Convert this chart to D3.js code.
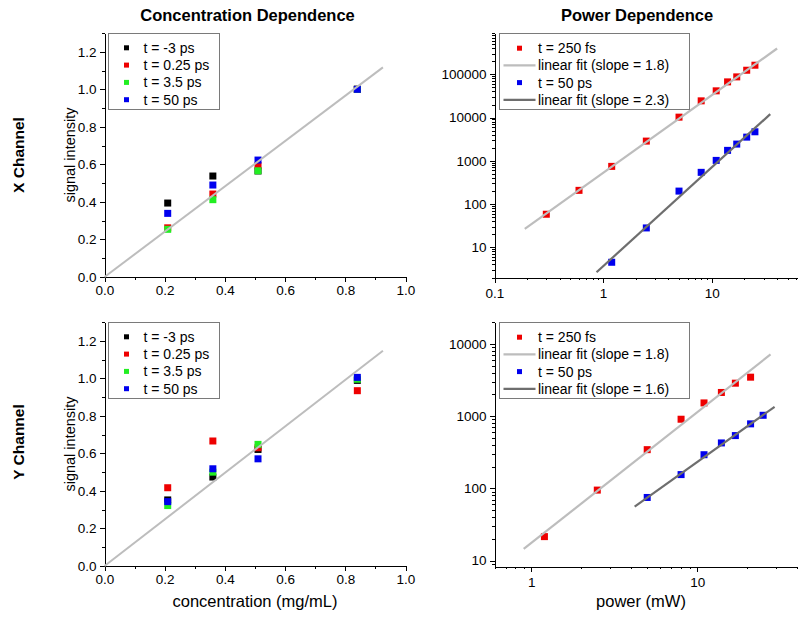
<!DOCTYPE html>
<html><head><meta charset="utf-8">
<script src="https://cdn.jsdelivr.net/npm/d3@7/dist/d3.min.js"></script>
<style>
html,body{margin:0;padding:0;background:#fff;}
svg{display:block;font-family:"Liberation Sans",Arial,sans-serif;}
</style></head>
<body>
<svg id="chart" width="800" height="617"></svg>
<script>
// ---------------- DATA ----------------
const concentrations = [0.21, 0.36, 0.51, 0.84];
const concSeriesLabels = ["t = -3 ps", "t = 0.25 ps", "t = 3.5 ps", "t = 50 ps"];
// X channel (concentration)
const xChanM3 = [0.394, 0.538, 0.565, 1.0];
const xChan025 = [0.262, 0.442, 0.593, 1.0];
const xChan35 = [0.254, 0.412, 0.566, 1.0];
const xChan50 = [0.339, 0.490, 0.623, 1.0];
// Y channel (concentration)
const yChanM3 = [0.352, 0.474, 0.621, 0.989];
const yChan025 = [0.417, 0.666, 0.630, 0.934];
const yChan35 = [0.322, 0.500, 0.648, 0.995];
const yChan50 = [0.343, 0.518, 0.571, 1.005];
// concentration fit lines (endpoints, data units)
const concFitX = [0, 0.925];
const xChanFitY = [0, 1.117];
const yChanFitY = [0, 1.147];

// X channel (power)
const xPowRed = [0.3, 0.6, 1.2, 2.5, 5, 8, 11, 14, 17, 21, 25];
const xSigRed = [58, 207, 742, 2850, 10200, 24300, 41400, 66700, 87000, 124000, 162000];
const xPowBlue = [1.2, 2.5, 5, 8, 11, 14, 17, 21, 25];
const xSigBlue = [4.5, 28, 199, 540, 1020, 1740, 2430, 3520, 4680];
const xFitRedX = [0.19, 40], xFitRedY = [26.5, 394000];
const xFitBlueX = [0.87, 34.6], xFitBlueY = [2.65, 11970];
const xPowLegend = ["t = 250 fs", "linear fit (slope = 1.8)", "t = 50 ps", "linear fit (slope = 2.3)"];
// Y channel (power)
const yPowRed = [1.2, 2.5, 5, 8, 11, 14, 17, 21];
const ySigRed = [21.5, 94.6, 343, 904, 1520, 2120, 2850, 3450];
const yPowBlue = [5, 8, 11, 14, 17, 21, 25];
const ySigBlue = [74.8, 155, 292, 425, 537, 780, 1025];
const yFitRedX = [0.9, 27.7], yFitRedY = [14.5, 7130];
const yFitBlueX = [4.2, 29.3], yFitBlueY = [56, 1343];
const yPowLegend = ["t = 250 fs", "linear fit (slope = 1.8)", "t = 50 ps", "linear fit (slope = 1.6)"];

// tick labels
const concTicks = [0, 0.2, 0.4, 0.6, 0.8, 1.0];
const intensityTicks = [0, 0.2, 0.4, 0.6, 0.8, 1.0, 1.2];
const xPowTicksTop = [0.1, 1, 10];
const xSigTicksTop = [10, 100, 1000, 10000, 100000];
const xPowTicksBottom = [1, 10];
const ySigTicksBottom = [10, 100, 1000, 10000];

// ---------------- STYLE ----------------
const C = {black:"#000000", red:"#ee0000", green:"#22ee22", blue:"#0000ee",
           fitLight:"#bdbdbd", fitDark:"#6e6e6e", legendBorder:"#7a7a7a"};
const concColors = [C.black, C.red, C.green, C.blue];
const FONT_TICK = 13.5;

const svg = d3.select("#chart");

function minorLinear(domain, step){
  const out=[]; for(let v=domain[0]; v<=domain[1]+1e-9; v+=step){ out.push(+v.toFixed(6)); } return out;
}
function minorLog(domain){
  const out=[]; const lo=Math.floor(Math.log10(domain[0])), hi=Math.ceil(Math.log10(domain[1]));
  for(let e=lo;e<=hi;e++){ for(let m=1;m<10;m++){ const v=m*Math.pow(10,e); if(v>=domain[0]*0.999 && v<=domain[1]*1.001) out.push(v);} }
  return out;
}
function fmtLog(v){ return v<1 ? String(v) : d3.format("d")(v); }

function drawAxes(g, x, y, o){
  const xMinor = g.append("g").attr("transform",`translate(0,${y.range()[0]})`)
    .call(d3.axisBottom(x).tickValues(o.xMinor).tickSize(2.5).tickSizeOuter(0).tickFormat(""));
  const yMinor = g.append("g").attr("transform",`translate(${x.range()[0]},0)`)
    .call(d3.axisLeft(y).tickValues(o.yMinor).tickSize(2.5).tickSizeOuter(0).tickFormat(""));
  const xa = g.append("g").attr("transform",`translate(0,${y.range()[0]})`)
    .call(d3.axisBottom(x).tickValues(o.xTicks).tickSize(5).tickSizeOuter(0).tickPadding(o.xPad).tickFormat(o.xFmt));
  const ya = g.append("g").attr("transform",`translate(${x.range()[0]},0)`)
    .call(d3.axisLeft(y).tickValues(o.yTicks).tickSize(5).tickSizeOuter(0).tickPadding(3).tickFormat(o.yFmt));
  [xMinor,yMinor,xa,ya].forEach(a=>{
    a.selectAll("path,line").attr("stroke","#000").attr("stroke-width",1).attr("shape-rendering","crispEdges");
    a.selectAll("text").attr("fill","#000").attr("font-size",FONT_TICK).attr("font-family","Liberation Sans, Arial, sans-serif");
  });
}

function drawConcPanel(top, seriesData, fitY){
  const left=104.5, right=405.5, bottom=top+244;
  const x = d3.scaleLinear().domain([0,1]).range([left,right]);
  const y = d3.scaleLinear().domain([0,1.3]).range([bottom,top]);
  const g = svg.append("g");
  drawAxes(g,x,y,{xTicks:concTicks,yTicks:intensityTicks,xMinor:minorLinear([0,1],0.1),yMinor:minorLinear([0,1.3],0.1),
    xFmt:d3.format(".1f"), yFmt:d3.format(".1f"), xPad:3});
  // markers
  seriesData.forEach((vals,si)=>{
    g.append("g").selectAll("rect").data(vals).join("rect")
      .attr("x",(d,i)=>x(concentrations[i])-3.5).attr("y",d=>y(d)-3.5)
      .attr("width",7).attr("height",7).attr("fill",concColors[si]);
  });
  // fit line
  g.append("line").attr("x1",x(concFitX[0])).attr("y1",y(fitY[0])).attr("x2",x(concFitX[1])).attr("y2",y(fitY[1]))
    .attr("stroke",C.fitLight).attr("stroke-width",2);
  // legend
  const lg = g.append("g").attr("transform",`translate(${left+4},${top})`);
  lg.append("rect").attr("x",0).attr("y",0).attr("width",111).attr("height",76)
    .attr("fill","#fff").attr("stroke",C.legendBorder).attr("stroke-width",1).attr("shape-rendering","crispEdges");
  concSeriesLabels.forEach((lab,i)=>{
    const yy = 14.8 + 17.3*i;
    lg.append("rect").attr("x",18-2.5).attr("y",yy-2.5).attr("width",5).attr("height",5).attr("fill",concColors[i]);
    lg.append("text").attr("x",35).attr("y",yy).attr("dy","0.36em").attr("font-size",14).attr("fill","#000").text(lab);
  });
}

function drawPowerPanel(top, xDomain, yDomain, xTicks, yTicks, red, blue, fitR, fitB, legendLabels){
  const left=494.5, right=797, bottom=top+244.5;
  const x = d3.scaleLog().domain(xDomain).range([left,right]);
  const y = d3.scaleLog().domain(yDomain).range([bottom,top]);
  const g = svg.append("g");
  drawAxes(g,x,y,{xTicks:xTicks,yTicks:yTicks,xMinor:minorLog(xDomain),yMinor:minorLog(yDomain),
    xFmt:fmtLog, yFmt:fmtLog, xPad:6});
  const series = [{px:red[0],py:red[1],c:C.red},{px:blue[0],py:blue[1],c:C.blue}];
  series.forEach(s=>{
    g.append("g").selectAll("rect").data(s.py).join("rect")
      .attr("x",(d,i)=>x(s.px[i])-3.5).attr("y",d=>y(d)-3.5).attr("width",7).attr("height",7).attr("fill",s.c);
  });
  const fits=[{f:fitR,c:C.fitLight},{f:fitB,c:C.fitDark}];
  fits.forEach(ft=>{
    g.append("line").attr("x1",x(ft.f[0][0])).attr("y1",y(ft.f[1][0])).attr("x2",x(ft.f[0][1])).attr("y2",y(ft.f[1][1]))
      .attr("stroke",ft.c).attr("stroke-width",2.2);
  });
  const lg = g.append("g").attr("transform",`translate(${left+5},${top})`);
  lg.append("rect").attr("x",0).attr("y",0).attr("width",190).attr("height",76)
    .attr("fill","#fff").attr("stroke",C.legendBorder).attr("stroke-width",1).attr("shape-rendering","crispEdges");
  legendLabels.forEach((lab,i)=>{
    const yy = 15.2 + 17.2*i;
    if(i%2===0){
      lg.append("rect").attr("x",20-2.5).attr("y",yy-2.5).attr("width",5).attr("height",5).attr("fill",i===0?C.red:C.blue);
    } else {
      lg.append("line").attr("x1",4).attr("x2",36).attr("y1",yy).attr("y2",yy)
        .attr("stroke",i===1?C.fitLight:C.fitDark).attr("stroke-width",2.2);
    }
    lg.append("text").attr("x",38.5).attr("y",yy).attr("dy","0.36em").attr("font-size",14).attr("fill","#000").text(lab);
  });
}

drawConcPanel(33, [xChanM3,xChan025,xChan35,xChan50], xChanFitY);
drawConcPanel(322, [yChanM3,yChan025,yChan35,yChan50], yChanFitY);
drawPowerPanel(33, [0.1,61], [2,9e5], xPowTicksTop, xSigTicksTop,
  [xPowRed,xSigRed],[xPowBlue,xSigBlue],[xFitRedX,xFitRedY],[xFitBlueX,xFitBlueY], xPowLegend);
drawPowerPanel(322, [0.6,40], [8.3,20000], xPowTicksBottom, ySigTicksBottom,
  [yPowRed,ySigRed],[yPowBlue,ySigBlue],[yFitRedX,yFitRedY],[yFitBlueX,yFitBlueY], yPowLegend);

// titles and labels
svg.append("text").attr("x",247.5).attr("y",21).attr("text-anchor","middle").attr("font-weight","bold").attr("font-size",16.5).text("Concentration Dependence");
svg.append("text").attr("x",637).attr("y",21).attr("text-anchor","middle").attr("font-weight","bold").attr("font-size",16.5).text("Power Dependence");
svg.append("text").attr("transform","translate(24,155) rotate(-90)").attr("text-anchor","middle").attr("font-weight","bold").attr("font-size",15.5).text("X Channel");
svg.append("text").attr("transform","translate(24,442) rotate(-90)").attr("text-anchor","middle").attr("font-weight","bold").attr("font-size",15.5).text("Y Channel");
svg.append("text").attr("transform","translate(75,155) rotate(-90)").attr("text-anchor","middle").attr("font-size",14.5).text("signal intensity");
svg.append("text").attr("transform","translate(75,444) rotate(-90)").attr("text-anchor","middle").attr("font-size",14.5).text("signal intensity");
svg.append("text").attr("x",255).attr("y",607).attr("text-anchor","middle").attr("font-size",16.5).text("concentration (mg/mL)");
svg.append("text").attr("x",641).attr("y",607).attr("text-anchor","middle").attr("font-size",16.5).text("power (mW)");
</script>
</body></html>
